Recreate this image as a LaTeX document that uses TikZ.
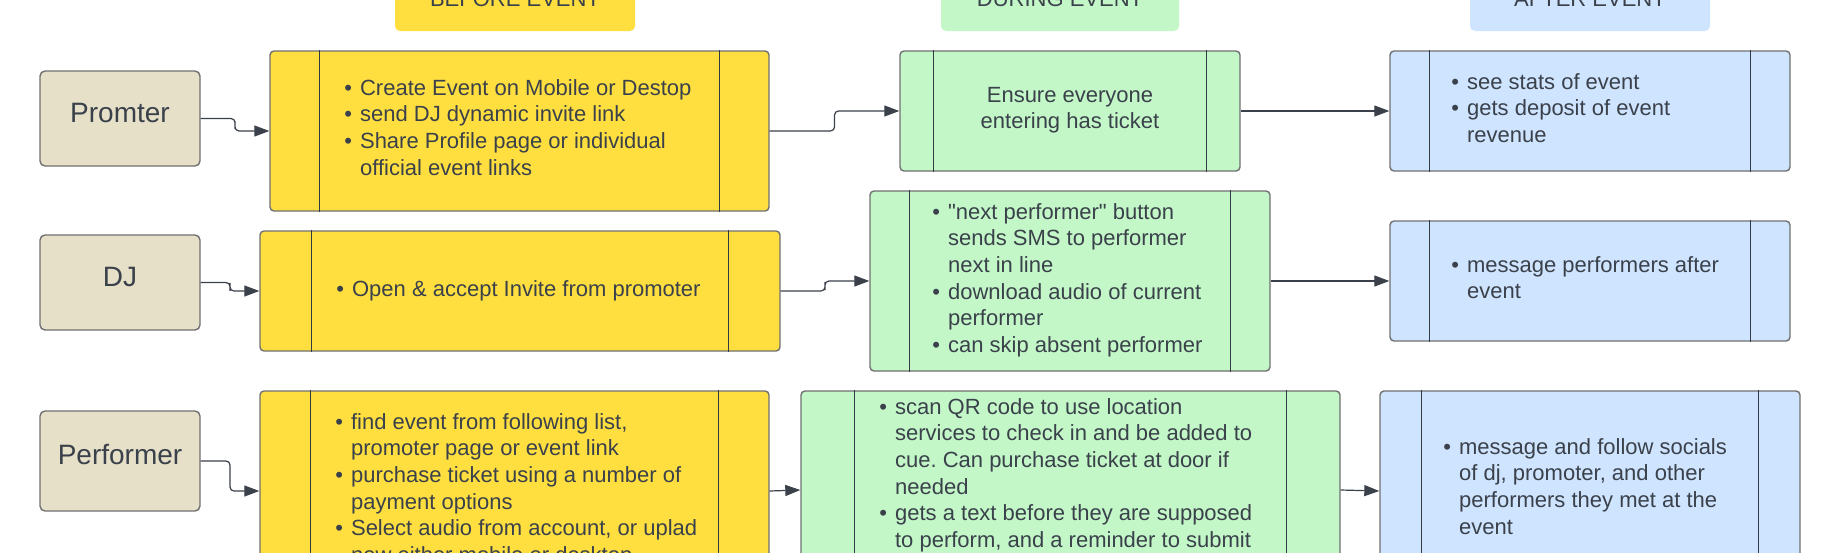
\documentclass[tikz,border=0pt]{standalone}
\usepackage{fontspec}
\setmainfont{Liberation Sans}
\usetikzlibrary{arrows.meta,calc,positioning}

\definecolor{ink}{HTML}{3A414A}
\definecolor{edgegray}{HTML}{707070}
\definecolor{beforeY}{HTML}{FFDF40}
\definecolor{duringG}{HTML}{C3F7C8}
\definecolor{afterB}{HTML}{CFE4FF}
\definecolor{actorC}{HTML}{E6E0C9}

\tikzset{
  wh/.style 2 args={minimum width=#1*0.5pt, minimum height=#2*0.5pt},
  header/.style={rectangle, rounded corners=2.5pt, inner sep=0pt, text=ink,
    font=\fontsize{11pt}{13pt}\selectfont},
  actor/.style={rectangle, rounded corners=2.5pt, draw=edgegray, line width=0.7pt,
    fill=actorC, text=ink, inner sep=0pt, text height=0.72em, text depth=0.35em,
    font=\fontsize{14pt}{16pt}\selectfont},
  lane/.style={rectangle, rounded corners=2pt, draw=edgegray, line width=0.7pt, inner sep=0pt},
  laneline/.style={draw=ink!90!black, line width=0.45pt},
  txt/.style={inner sep=0pt, anchor=base west, text=ink,
    font=\fontsize{11pt}{13.35pt}\selectfont\frenchspacing},
  flow/.style={draw=ink, line width=0.6pt, -{Triangle[length=7.5pt,width=5.5pt]}},
  elbow/.style={rounded corners=2pt,
    to path={-| ($(\tikztostart)!0.5!(\tikztotarget)$) |- (\tikztotarget)}}
}
\newcommand{\bl}{\textbullet}

\begin{document}
\begin{tikzpicture}[x=0.5pt,y=-0.5pt]
  \useasboundingbox (0,0) rectangle (1840,552);
  \clip (0,0) rectangle (1840,552);

  % phase headers
  \node[header, fill=beforeY, wh={240}{64}] (hBefore) at (515,-1) {BEFORE EVENT};
  \node[header, fill=duringG, wh={238}{64}] (hDuring) at (1060,-1) {DURING EVENT};
  \node[header, fill=afterB, wh={240}{64}] (hAfter) at (1590,-1) {AFTER EVENT};

  % actors
  \node[actor, wh={160}{95}] (promoter) at (120,118.5) {Promter};
  \node[actor, wh={160}{95}] (dj) at (120,282.5) {DJ};
  \node[actor, wh={160}{100}] (performer) at (120,461) {Performer};

  % lanes
  \node[lane, fill=beforeY, wh={499}{160}] (promBefore) at (519.5,131) {};
  \node[lane, fill=beforeY, wh={520}{120}] (djBefore) at (520,291) {};
  \node[lane, fill=beforeY, wh={509}{200}] (perfBefore) at (514.5,491) {};
  \node[lane, fill=duringG, wh={340}{120}] (promDuring) at (1070,111) {};
  \node[lane, fill=duringG, wh={400}{180}] (djDuring) at (1070,281) {};
  \node[lane, fill=duringG, wh={539}{198}] (perfDuring) at (1070.5,490) {};
  \node[lane, fill=afterB, wh={400}{120}] (promAfter) at (1590,111) {};
  \node[lane, fill=afterB, wh={400}{120}] (djAfter) at (1590,281) {};
  \node[lane, fill=afterB, wh={420}{200}] (perfAfter) at (1590,491) {};

  \foreach \b in {promBefore,djBefore,perfBefore,promDuring,djDuring,perfDuring,promAfter,djAfter,perfAfter}{
    \draw[laneline] ($(\b.north west)!0.1!(\b.north east)$) -- ($(\b.south west)!0.1!(\b.south east)$);
    \draw[laneline] ($(\b.north east)!0.1!(\b.north west)$) -- ($(\b.south east)!0.1!(\b.south west)$);
  }

  % lane texts
  \node[txt] (promBeforeTxt) at (344,95) {\begin{tabular}[t]{@{}l@{\hspace{4pt}}l@{}}
    \bl & Create Event on Mobile or Destop\\
    \bl & send DJ dynamic invite link\\
    \bl & Share Profile page or individual\\
        & official event links
  \end{tabular}};
  \node[txt] (djBeforeTxt) at (336,296) {\begin{tabular}[t]{@{}l@{\hspace{4pt}}l@{}}
    \bl & Open \& accept Invite from promoter
  \end{tabular}};
  \node[txt] (perfBeforeTxt) at (335,429) {\begin{tabular}[t]{@{}l@{\hspace{4pt}}l@{}}
    \bl & find event from following list,\\
        & promoter page or event link\\
    \bl & purchase ticket using a number of\\
        & payment options\\
    \bl & Select audio from account, or uplad\\
        & new either mobile or desktop
  \end{tabular}};
  \node[txt, anchor=base] (promDuringTxt) at (1070,102) {\begin{tabular}[t]{@{}c@{}}
    Ensure everyone\\
    entering has ticket
  \end{tabular}};
  \node[txt] (djDuringTxt) at (932,219) {\begin{tabular}[t]{@{}l@{\hspace{4pt}}l@{}}
    \bl & \textquotedbl next performer\textquotedbl{} button\\
        & sends SMS to performer\\
        & next in line\\
    \bl & download audio of current\\
        & performer\\
    \bl & can skip absent performer
  \end{tabular}};
  \node[txt] (perfDuringTxt) at (879,414) {\begin{tabular}[t]{@{}l@{\hspace{4pt}}l@{}}
    \bl & scan QR code to use location\\
        & services to check in and be added to\\
        & cue. Can purchase ticket at door if\\
        & needed\\
    \bl & gets a text before they are supposed\\
        & to perform, and a reminder to submit
  \end{tabular}};
  \node[txt] (promAfterTxt) at (1451,89) {\begin{tabular}[t]{@{}l@{\hspace{4pt}}l@{}}
    \bl & see stats of event\\
    \bl & gets deposit of event\\
        & revenue
  \end{tabular}};
  \node[txt] (djAfterTxt) at (1451,272) {\begin{tabular}[t]{@{}l@{\hspace{4pt}}l@{}}
    \bl & message performers after\\
        & event
  \end{tabular}};
  \node[txt] (perfAfterTxt) at (1443,454) {\begin{tabular}[t]{@{}l@{\hspace{4pt}}l@{}}
    \bl & message and follow socials\\
        & of dj, promoter, and other\\
        & performers they met at the\\
        & event
  \end{tabular}};

  % connectors
  \draw[flow] (promoter.east) to[elbow] (promBefore.west);
  \draw[flow] (promBefore.east) to[elbow] (promDuring.west);
  \draw[flow] (promDuring.east) -- (promAfter.west);
  \draw[flow] (dj.east) to[elbow] (djBefore.west);
  \draw[flow] (djBefore.east) to[elbow] (djDuring.west);
  \draw[flow] (djDuring.east) -- (djAfter.west);
  \draw[flow] (performer.east) to[elbow] (perfBefore.west);
  \draw[flow] (perfBefore.east) -- (perfDuring.west);
  \draw[flow] (perfDuring.east) -- (perfAfter.west);
\end{tikzpicture}
\end{document}
